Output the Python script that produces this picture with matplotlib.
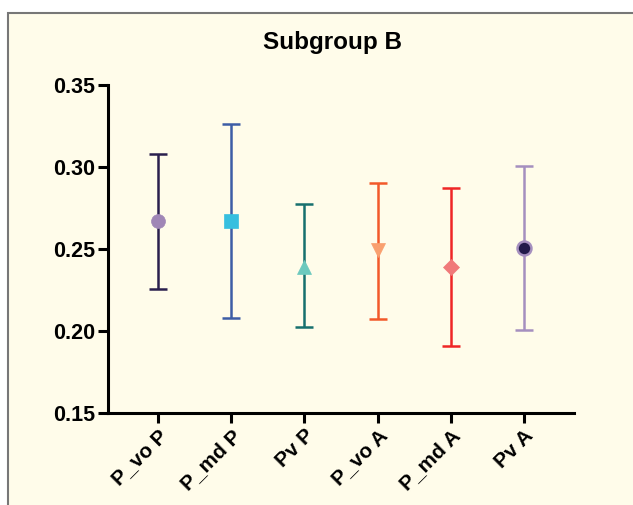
import matplotlib
matplotlib.use("Agg")
import matplotlib.pyplot as plt
from matplotlib.patches import Rectangle

categories = ["P_vo P", "P_md P", "Pv P", "P_vo A", "P_md A", "Pv A"]
means = [0.267, 0.267, 0.239, 0.249, 0.239, 0.2505]
upper = [0.308, 0.3265, 0.2775, 0.290, 0.287, 0.3005]
lower = [0.2258, 0.2075, 0.202, 0.207, 0.191, 0.2003]
bar_colors = ["#2A1F4E", "#3D5DA6", "#17706E", "#F2592A", "#EF2626", "#A58FBF"]
marker_colors = ["#A086B6", "#37BFDF", "#6CC9BE", "#F9A06F", "#F07A7A", "#221A4A"]
marker_edges = ["#A086B6", "#37BFDF", "#6CC9BE", "#F9A06F", "#F07A7A", "#A58FBF"]
markers = ["o", "s", "^", "v", "D", "o"]
msizes = [10, 10.5, 9.5, 9.5, 8, 10]
yticks = [0.15, 0.20, 0.25, 0.30, 0.35]

bg = "#FFFCEA"
fig = plt.figure(figsize=(6.33, 5.05), dpi=100)
fig.patch.set_facecolor("white")
fig.patches.append(Rectangle((8/633, -0.1), 1.2, 1.1 - 13/505, transform=fig.transFigure,
                             facecolor=bg, edgecolor="#777777", linewidth=1.5, zorder=-1))

ax = fig.add_axes([108/633, 1 - 412.7/505, (574 - 108)/633, (412.7 - 85)/505])
ax.set_facecolor("none")

for i, cat in enumerate(categories):
    m = means[i]
    ax.errorbar(i, m, yerr=[[m - lower[i]], [upper[i] - m]], fmt="none",
                ecolor=bar_colors[i], elinewidth=1.8, capsize=6.5, capthick=1.8, zorder=2)
    ax.plot(i, m, marker=markers[i], markersize=msizes[i], color=marker_colors[i],
            markeredgecolor=marker_edges[i], markeredgewidth=1.8 if i == 5 else 0.5,
            linestyle="none", zorder=3)

ax.set_xlim(-0.683, 5.683)
ax.set_ylim(0.15, 0.35)
ax.set_yticks(yticks)
ax.set_yticklabels([f"{t:.2f}" for t in yticks], fontsize=15.5, fontweight="bold",
                   family="Liberation Sans")
ax.set_xticks(range(len(categories)))
ax.set_xticklabels(categories, rotation=45, ha="right", rotation_mode="anchor",
                   fontsize=15, fontweight="bold", family="Liberation Sans")
for s in ["top", "right"]:
    ax.spines[s].set_visible(False)
for s in ["left", "bottom"]:
    ax.spines[s].set_linewidth(2.2)
ax.tick_params(axis="both", width=2.2, length=7.5, pad=2, colors="black")

fig.text(332/633, 1 - 42/505, "Subgroup B", ha="center", va="center",
         fontsize=17.5, fontweight="bold", family="Liberation Sans")

fig.savefig("out.png", dpi=100, facecolor=fig.get_facecolor())
